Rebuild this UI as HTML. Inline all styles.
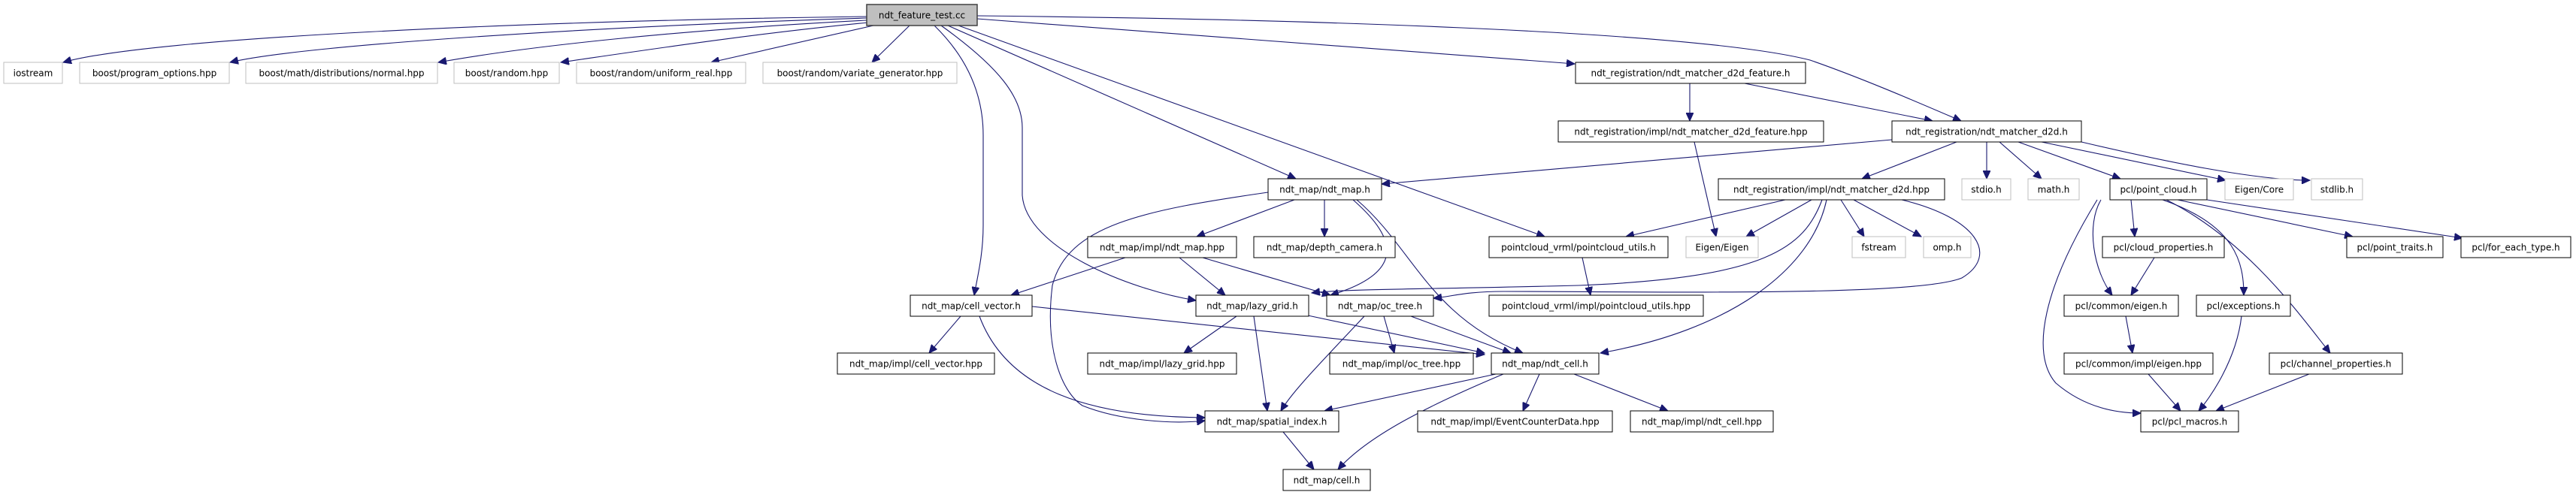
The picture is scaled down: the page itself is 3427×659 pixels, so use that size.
<!DOCTYPE html>
<html><head><meta charset="utf-8"><style>
html,body{margin:0;padding:0;background:#fff;}
svg{display:block;}
text{font-family:"DejaVu Sans","Liberation Sans",sans-serif;font-size:12px;fill:#000;}
.e{fill:none;stroke:#191970;stroke-width:1.1;}
.g{fill:#fff;stroke:#bfbfbf;stroke-width:1;}
.b{fill:#fff;stroke:#000;stroke-width:1;}
.sh{fill:#555;}
</style></head><body>
<svg width="3427" height="659" viewBox="0 0 3427 659" xmlns="http://www.w3.org/2000/svg">
<defs>
<marker id="a" markerUnits="userSpaceOnUse" markerWidth="12" markerHeight="10" refX="11" refY="5" orient="auto">
<path d="M0,0 L11,5 L0,10 z" fill="#191970" stroke="#191970"/>
</marker>
</defs>
<g marker-end="url(#a)">
<!-- root edges -->
<path class="e" d="M1153,22 C700,28 200,50 84,83"/>
<path class="e" d="M1153,24 C800,35 400,60 306,83"/>
<path class="e" d="M1153,27 C900,40 700,62 583,83"/>
<path class="e" d="M1155,30 C1000,45 850,68 746,83"/>
<path class="e" d="M1162,34 L946,83"/>
<path class="e" d="M1210,34 L1160,83"/>
<path class="e" d="M1300,25 L2095,85"/>
<path class="e" d="M1300,21 C1700,25 2250,40 2408,80 C2480,105 2560,140 2609,161"/>
<path class="e" d="M1261,34 L1724,238"/>
<path class="e" d="M1275,34 L2055,315"/>
<path class="e" d="M1243,34 C1290,80 1308,130 1308,180 L1308,300 C1308,340 1300,370 1296,393"/>
<path class="e" d="M1252,34 C1330,90 1360,130 1360,170 L1360,260 C1365,330 1500,385 1591,400"/>
<!-- d2d_feature -->
<path class="e" d="M2248,111 L2248,161"/>
<path class="e" d="M2321,111 L2571,161"/>
<path class="e" d="M2254,189 L2283,315"/>
<!-- d2d.h -->
<path class="e" d="M2517,186 L1838,245"/>
<path class="e" d="M2603,189 L2477,238"/>
<path class="e" d="M2643,189 L2643,238"/>
<path class="e" d="M2660,189 L2716,238"/>
<path class="e" d="M2685,189 L2821,238"/>
<path class="e" d="M2716,189 L2961,240"/>
<path class="e" d="M2769,189 C2880,215 3000,240 3073,240"/>
<!-- ndt_map.h -->
<path class="e" d="M1722,266 L1592,315"/>
<path class="e" d="M1762,266 L1762,315"/>
<path class="e" d="M1800,266 C1850,310 1880,360 1770,393"/>
<path class="e" d="M1805,266 C1880,330 1900,420 2026,470"/>
<path class="e" d="M1687,256 C1520,280 1420,300 1400,380 C1390,460 1410,520 1440,540 C1490,560 1560,565 1603,560"/>
<!-- impl/ndt_map.hpp -->
<path class="e" d="M1497,343 L1345,393"/>
<path class="e" d="M1569,343 L1630,393"/>
<path class="e" d="M1600,343 L1770,393"/>
<!-- cell_vector -->
<path class="e" d="M1278,421 L1236,470"/>
<path class="e" d="M1373,408 L1975,472"/>
<path class="e" d="M1303,421 C1340,520 1450,555 1603,556"/>
<!-- lazy_grid -->
<path class="e" d="M1645,421 L1575,470"/>
<path class="e" d="M1668,421 L1686,547"/>
<path class="e" d="M1740,420 L1975,470"/>
<!-- oc_tree -->
<path class="e" d="M1841,421 L1855,470"/>
<path class="e" d="M1815,421 C1760,480 1720,520 1704,547"/>
<path class="e" d="M1877,421 L2010,470"/>
<!-- ndt_cell -->
<path class="e" d="M1990,498 L1762,547"/>
<path class="e" d="M2000,498 C1900,540 1820,580 1780,625"/>
<path class="e" d="M2048,498 L2026,547"/>
<path class="e" d="M2094,498 L2219,547"/>
<path class="e" d="M1707,575 L1748,625"/>
<path class="e" d="M2105,343 L2116,393"/>
<!-- d2d.hpp -->
<path class="e" d="M2375,266 L2163,315"/>
<path class="e" d="M2410,266 L2323,315"/>
<path class="e" d="M2449,266 L2480,315"/>
<path class="e" d="M2466,266 L2556,315"/>
<path class="e" d="M2424,266 C2400,330 2350,370 2100,380 C1900,385 1780,385 1745,390"/>
<path class="e" d="M2430,266 C2410,360 2300,440 2129,470"/>
<path class="e" d="M2530,266 C2630,290 2660,340 2610,370 C2550,395 2200,388 2000,388 C1950,388 1930,395 1907,397"/>
<!-- point_cloud -->
<path class="e" d="M2835,266 L2840,315"/>
<path class="e" d="M2795,266 C2775,300 2785,360 2810,393"/>
<path class="e" d="M2790,266 C2720,380 2700,470 2735,510 C2770,540 2810,550 2848,550"/>
<path class="e" d="M2877,266 C2975,300 2985,350 2985,393"/>
<path class="e" d="M2882,266 C2990,320 3060,420 3100,470"/>
<path class="e" d="M2897,266 L3130,315"/>
<path class="e" d="M2936,266 L3276,317"/>
<path class="e" d="M2866,343 L2835,393"/>
<path class="e" d="M2828,421 L2837,470"/>
<path class="e" d="M2858,498 L2901,547"/>
<path class="e" d="M2982,421 C2975,480 2940,530 2925,547"/>
<path class="e" d="M3072,498 L2948,547"/>
</g>
<!-- nodes -->
<rect x="1153" y="6" width="147" height="28" fill="#bfbfbf" stroke="#404040" stroke-width="1.5"/>
<text x="1226.5" y="24.5" text-anchor="middle">ndt_feature_test.cc</text>
<g id="gray">
<rect class="g" x="5" y="83" width="78" height="28"/><text x="44" y="101.5" text-anchor="middle">iostream</text>
<rect class="g" x="106" y="83" width="199" height="28"/><text x="205.5" y="101.5" text-anchor="middle">boost/program_options.hpp</text>
<rect class="g" x="327" y="83" width="255" height="28"/><text x="454.5" y="101.5" text-anchor="middle">boost/math/distributions/normal.hpp</text>
<rect class="g" x="604" y="83" width="140" height="28"/><text x="674" y="101.5" text-anchor="middle">boost/random.hpp</text>
<rect class="g" x="767" y="83" width="225" height="28"/><text x="879.5" y="101.5" text-anchor="middle">boost/random/uniform_real.hpp</text>
<rect class="g" x="1015" y="83" width="258" height="28"/><text x="1144" y="101.5" text-anchor="middle">boost/random/variate_generator.hpp</text>
<rect class="g" x="2610" y="238" width="65" height="28"/><text x="2642.5" y="256.5" text-anchor="middle">stdio.h</text>
<rect class="g" x="2698" y="238" width="68" height="28"/><text x="2732" y="256.5" text-anchor="middle">math.h</text>
<rect class="g" x="2960" y="238" width="91" height="28"/><text x="3005.5" y="256.5" text-anchor="middle">Eigen/Core</text>
<rect class="g" x="3075" y="238" width="68" height="28"/><text x="3109" y="256.5" text-anchor="middle">stdlib.h</text>
<rect class="g" x="2243" y="315" width="96" height="28"/><text x="2291" y="333.5" text-anchor="middle">Eigen/Eigen</text>
<rect class="g" x="2464" y="315" width="71" height="28"/><text x="2499.5" y="333.5" text-anchor="middle">fstream</text>
<rect class="g" x="2559" y="315" width="63" height="28"/><text x="2590.5" y="333.5" text-anchor="middle">omp.h</text>
</g>
<g>
<rect class="b" x="2096" y="83" width="306" height="28"/><text x="2249" y="101.5" text-anchor="middle">ndt_registration/ndt_matcher_d2d_feature.h</text>
<rect class="b" x="2073" y="161" width="353" height="28"/><text x="2249.5" y="179.5" text-anchor="middle">ndt_registration/impl/ndt_matcher_d2d_feature.hpp</text>
<rect class="b" x="2517" y="161" width="252" height="28"/><text x="2643" y="179.5" text-anchor="middle">ndt_registration/ndt_matcher_d2d.h</text>
<rect class="b" x="1687" y="238" width="151" height="28"/><text x="1762.5" y="256.5" text-anchor="middle">ndt_map/ndt_map.h</text>
<rect class="b" x="2286" y="238" width="301" height="28"/><text x="2436.5" y="256.5" text-anchor="middle">ndt_registration/impl/ndt_matcher_d2d.hpp</text>
<rect class="b" x="2807" y="238" width="129" height="28"/><text x="2871.5" y="256.5" text-anchor="middle">pcl/point_cloud.h</text>
<rect class="b" x="1447" y="315" width="198" height="28"/><text x="1546" y="333.5" text-anchor="middle">ndt_map/impl/ndt_map.hpp</text>
<rect class="b" x="1668" y="315" width="188" height="28"/><text x="1762" y="333.5" text-anchor="middle">ndt_map/depth_camera.h</text>
<rect class="b" x="1981" y="315" width="238" height="28"/><text x="2100" y="333.5" text-anchor="middle">pointcloud_vrml/pointcloud_utils.h</text>
<rect class="b" x="2797" y="315" width="162" height="28"/><text x="2878" y="333.5" text-anchor="middle">pcl/cloud_properties.h</text>
<rect class="b" x="3122" y="315" width="128" height="28"/><text x="3186" y="333.5" text-anchor="middle">pcl/point_traits.h</text>
<rect class="b" x="3274" y="315" width="146" height="28"/><text x="3347" y="333.5" text-anchor="middle">pcl/for_each_type.h</text>
<rect class="b" x="1211" y="393" width="162" height="28"/><text x="1292" y="411.5" text-anchor="middle">ndt_map/cell_vector.h</text>
<rect class="b" x="1591" y="393" width="150" height="28"/><text x="1666" y="411.5" text-anchor="middle">ndt_map/lazy_grid.h</text>
<rect class="b" x="1765" y="393" width="142" height="28"/><text x="1836" y="411.5" text-anchor="middle">ndt_map/oc_tree.h</text>
<rect class="b" x="1981" y="393" width="285" height="28"/><text x="2123.5" y="411.5" text-anchor="middle">pointcloud_vrml/impl/pointcloud_utils.hpp</text>
<rect class="b" x="2746" y="393" width="152" height="28"/><text x="2822" y="411.5" text-anchor="middle">pcl/common/eigen.h</text>
<rect class="b" x="2922" y="393" width="125" height="28"/><text x="2984.5" y="411.5" text-anchor="middle">pcl/exceptions.h</text>
<rect class="b" x="1114" y="470" width="209" height="28"/><text x="1218.5" y="488.5" text-anchor="middle">ndt_map/impl/cell_vector.hpp</text>
<rect class="b" x="1447" y="470" width="198" height="28"/><text x="1546" y="488.5" text-anchor="middle">ndt_map/impl/lazy_grid.hpp</text>
<rect class="b" x="1769" y="470" width="191" height="28"/><text x="1864.5" y="488.5" text-anchor="middle">ndt_map/impl/oc_tree.hpp</text>
<rect class="b" x="1984" y="470" width="143" height="28"/><text x="2055.5" y="488.5" text-anchor="middle">ndt_map/ndt_cell.h</text>
<rect class="b" x="2746" y="470" width="198" height="28"/><text x="2845" y="488.5" text-anchor="middle">pcl/common/impl/eigen.hpp</text>
<rect class="b" x="3019" y="470" width="177" height="28"/><text x="3107.5" y="488.5" text-anchor="middle">pcl/channel_properties.h</text>
<rect class="b" x="1603" y="547" width="178" height="28"/><text x="1692" y="565.5" text-anchor="middle">ndt_map/spatial_index.h</text>
<rect class="b" x="1886" y="547" width="259" height="28"/><text x="2015.5" y="565.5" text-anchor="middle">ndt_map/impl/EventCounterData.hpp</text>
<rect class="b" x="2169" y="547" width="190" height="28"/><text x="2264" y="565.5" text-anchor="middle">ndt_map/impl/ndt_cell.hpp</text>
<rect class="b" x="2848" y="547" width="130" height="28"/><text x="2913" y="565.5" text-anchor="middle">pcl/pcl_macros.h</text>
<rect class="b" x="1707" y="625" width="116" height="28"/><text x="1765" y="643.5" text-anchor="middle">ndt_map/cell.h</text>
</g>
</svg>
</body></html>
